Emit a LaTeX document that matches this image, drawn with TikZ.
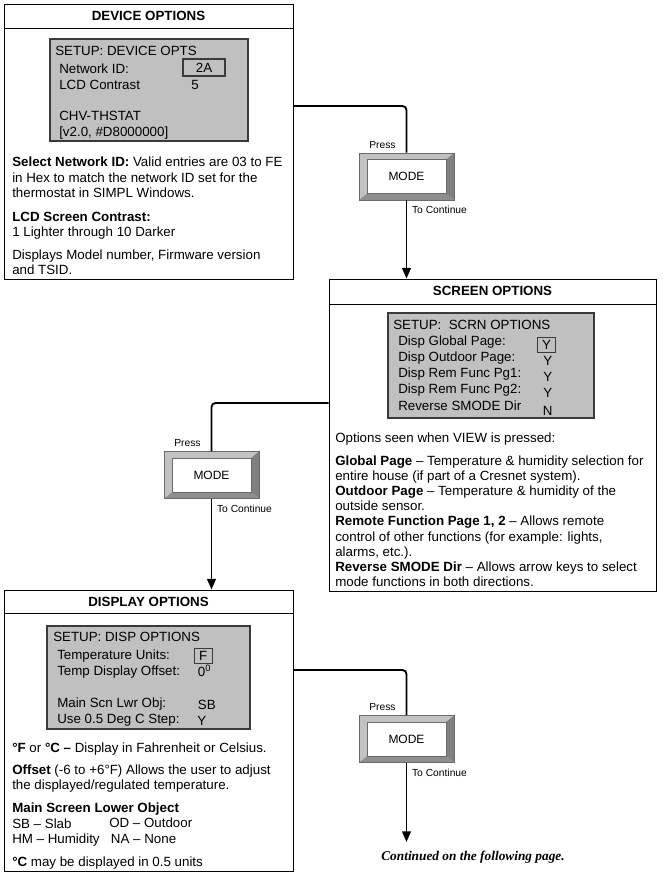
\documentclass[tikz,border=0pt]{standalone}
\usepackage{fontspec}
\setmainfont{Liberation Sans}
\newfontfamily\contfont{Liberation Serif}
\usetikzlibrary{arrows.meta,positioning,fit}

\definecolor{lcdgray}{HTML}{C0C0C0}
\definecolor{lcdedge}{HTML}{3A3A3A}
\definecolor{keylight}{HTML}{C2C2C2}
\definecolor{keyright}{HTML}{808080}
\definecolor{keybottom}{HTML}{8E8E8E}
\definecolor{keyedge}{HTML}{6A6A6A}

\tikzset{
  panel/.style={draw, line width=0.6pt, inner sep=0pt},
  paneltitle/.style={font=\bfseries, inner sep=0pt},
  lcd/.style={draw=lcdedge, fill=lcdgray, line width=1pt, inner sep=0pt},
  valbox/.style={draw=lcdedge, line width=0.9pt, inner sep=0pt},
  txt/.style={anchor=base west, inner sep=0pt, align=left},
  keylbl/.style={font=\fontsize{7.7}{9}\selectfont, inner sep=0pt},
  modekey/.style={draw=keyedge, fill=keylight, line width=0.4pt, inner sep=0pt,
    minimum width=71.25pt, minimum height=35.25pt, font=\fontsize{9}{11}\selectfont,
    path picture={
      \fill[keyright] (path picture bounding box.north east)
        -- ([shift={(-6pt,-5pt)}]path picture bounding box.north east)
        -- ([shift={(-6pt,5pt)}]path picture bounding box.south east)
        -- (path picture bounding box.south east) -- cycle;
      \fill[keybottom] (path picture bounding box.south west)
        -- ([shift={(6.5pt,5pt)}]path picture bounding box.south west)
        -- ([shift={(-6pt,5pt)}]path picture bounding box.south east)
        -- (path picture bounding box.south east) -- cycle;
      \filldraw[fill=white, draw=keyedge, line width=0.4pt]
        ([shift={(6.5pt,5pt)}]path picture bounding box.south west)
        rectangle ([shift={(-6pt,-5pt)}]path picture bounding box.north east);
    }},
  flow/.style={line width=1.4pt, rounded corners=3pt},
  flowarrow/.style={flow, -{Triangle[length=8pt,width=6.5pt]}}
}

\begin{document}
\fontsize{10}{11.4}\selectfont
\begin{tikzpicture}[x=0.75pt, y=-0.75pt]
  \useasboundingbox (0,0) rectangle (663,875);

  % device options (multi-line texts sit on their last baseline)
  \node[panel, fit={(4,4) (293,279)}] (devbox) {};
  \draw[line width=0.6pt] (devbox.west |- 0,28) -- (devbox.east |- 0,28);
  \node[paneltitle] (devtitle) at (148.5,16) {DEVICE OPTIONS};
  \node[lcd, fit={(50,39) (248,141)}] (devlcd) {};
  \node[txt] (devsetup) at (55,55) {SETUP: DEVICE OPTS};
  \node[txt] (devnet) at (59,73.3) {Network ID:};
  \node[valbox, minimum width=31.5pt, minimum height=12.75pt] (devnetval) at (204,67.5) {2A};
  \node[txt] (devlcdc) at (59,89) {LCD Contrast};
  \node[txt] (devlcdval) at (191,89) {5};
  \node[txt] (devmodel) at (59,120.7) {CHV-THSTAT};
  \node[txt] (devfw) at (59,136) {[v2.0, \#D8000000]};
  \node[txt] (devnote1) at (12,197.3) {\textbf{Select Network ID:} Valid entries are 03 to FE\\
    in Hex to match the network ID set for the\\thermostat in SIMPL Windows.};
  \node[txt] (devnote2) at (12,236.7) {\textbf{LCD Screen Contrast:}\\1 Lighter through 10 Darker};
  \node[txt] (devnote3) at (12,274.5) {Displays Model number, Firmware version\\and TSID.};

  % screen options
  \node[panel, fit={(329,279) (656,591)}] (scrbox) {};
  \draw[line width=0.6pt] (scrbox.west |- 0,304) -- (scrbox.east |- 0,304);
  \node[paneltitle] (scrtitle) at (492.5,291) {SCREEN OPTIONS};
  \node[lcd, fit={(388,313) (594,418)}] (scrlcd) {};
  \node[txt] (scrsetup) at (393,329) {SETUP:\ \ SCRN OPTIONS};
  \node[txt] (scrglob) at (398,345.7) {Disp Global Page:};
  \node[txt] (scrout) at (398,361.7) {Disp Outdoor Page:};
  \node[txt] (scrpg1) at (398,377.3) {Disp Rem Func Pg1:};
  \node[txt] (scrpg2) at (398,393.3) {Disp Rem Func Pg2:};
  \node[txt] (scrrev) at (398,410) {Reverse SMODE Dir};
  \node[valbox, minimum width=14pt, minimum height=11pt] (scrglobval) at (546.5,345) {Y};
  \node[txt] (scroutval) at (543,365) {Y};
  \node[txt] (scrpg1val) at (543,381.5) {Y};
  \node[txt] (scrpg2val) at (543,397.7) {Y};
  \node[txt] (scrrevval) at (542.5,415) {N};
  \node[txt] (scrview) at (335,442.7) {Options seen when VIEW is pressed:};
  \node[txt] (scrnote) at (335,586.7) {\textbf{Global Page} -- Temperature \& humidity selection for\\
    entire house (if part of a Cresnet system).\\
    \textbf{Outdoor Page} -- Temperature \& humidity of the\\
    outside sensor.\\
    \textbf{Remote Function Page 1, 2} -- Allows remote\\
    control of other functions (for example: lights,\\
    alarms, etc.).\\
    \textbf{Reverse SMODE Dir} -- Allows arrow keys to select\\
    mode functions in both directions.};

  % display options
  \node[panel, fit={(4,590) (293,871)}] (dispbox) {};
  \draw[line width=0.6pt] (dispbox.west |- 0,613) -- (dispbox.east |- 0,613);
  \node[paneltitle] (disptitle) at (148.5,602) {DISPLAY OPTIONS};
  \node[lcd, fit={(47,626) (250,729)}] (displcd) {};
  \node[txt] (dispsetup) at (53,641) {SETUP: DISP OPTIONS};
  \node[txt] (dispunits) at (57,659) {Temperature Units:};
  \node[valbox, minimum width=13.5pt, minimum height=11.25pt] (dispunitsval) at (203.3,655.8) {F};
  \node[txt] (dispoff) at (57,675.7) {Temp Display Offset:};
  \node[txt] (dispoffval) at (197.7,676) {0\textsuperscript{0}};
  \node[txt] (displwr) at (57,707.7) {Main Scn Lwr Obj:};
  \node[txt] (displwrval) at (197.7,709) {SB};
  \node[txt] (dispstep) at (57,723.3) {Use 0.5 Deg C Step:};
  \node[txt] (dispstepval) at (197,725) {Y};
  \node[txt] (dispnote1) at (12,752.3) {\textbf{°F} or \textbf{°C --} Display in Fahrenheit or Celsius.};
  \node[txt] (dispnote2) at (12,789.3) {\textbf{Offset} (-6 to +6°F) Allows the user to adjust\\
    the displayed/regulated temperature.};
  \node[txt] (dispnote3) at (12,843.3) {\textbf{Main Screen Lower Object}\\SB -- Slab\\HM -- Humidity};
  \node[txt] (dispod) at (109,827.7) {OD -- Outdoor};
  \node[txt] (dispna) at (110.7,843.3) {NA -- None};
  \node[txt] (dispnote4) at (12,866.7) {\textbf{°C} may be displayed in 0.5 units};

  % mode keys
  \node[modekey] (mode1) at (406.5,176.5) {MODE};
  \node[modekey] (mode2) at (211.5,475) {MODE};
  \node[modekey] (mode3) at (406.5,739) {MODE};
  \foreach \k in {1,2,3} {
    \node[keylbl, above left=3pt and 8pt of mode\k.north] (press\k) {Press};
    \node[keylbl, below right=4.5pt and 4pt of mode\k.south] (cont\k) {To Continue};
  }

  % connectors
  \coordinate (devexit) at (devbox.east |- 0,106);
  \coordinate (screxit) at (scrbox.west |- 0,403);
  \coordinate (dispexit) at (dispbox.east |- 0,670);
  \coordinate (nextpage) at (406.5,842);
  \draw[flow] (devexit) -| (mode1.north);
  \draw[flowarrow] (mode1.south) -- (mode1.south |- scrbox.north);
  \draw[flow] (screxit) -| (mode2.north);
  \draw[flowarrow] (mode2.south) -- (mode2.south |- dispbox.north);
  \draw[flow] (dispexit) -| (mode3.north);
  \draw[flowarrow] (mode3.south) -- (nextpage);

  \node[inner sep=0pt, font=\contfont\bfseries\itshape] (contnote) at (473,857) {Continued on the following page.};
\end{tikzpicture}
\end{document}
